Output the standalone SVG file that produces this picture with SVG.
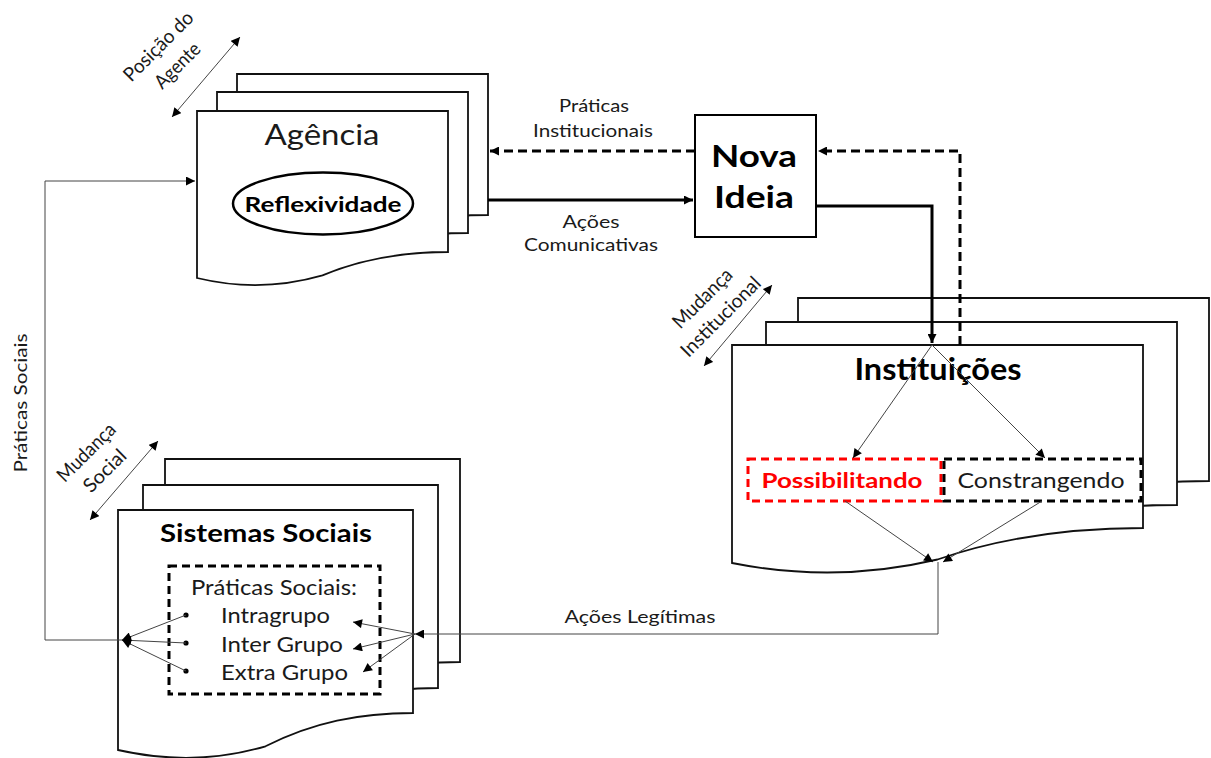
<svg xmlns="http://www.w3.org/2000/svg" width="1211" height="758" viewBox="0 0 1211 758">
<style>
.page{fill:#fff;stroke:#111;stroke-width:1.8}
.t{font-family:Lato,"Liberation Sans",sans-serif;fill:#1a1a1a}
.b{font-weight:bold;fill:#000}
.thick{fill:none;stroke:#000;stroke-width:3}
.dash{fill:none;stroke:#000;stroke-width:3;stroke-dasharray:9 5}
.thin{fill:none;stroke:#444;stroke-width:1}
.box{fill:#fff;stroke-width:3;stroke-dasharray:8 5}
</style>
<defs>
<marker id="ah" viewBox="0 0 10 10" refX="10" refY="5" markerWidth="10" markerHeight="9" orient="auto-start-reverse" markerUnits="userSpaceOnUse"><path d="M0,0 L10,5 L0,10 z" fill="#000"/></marker>
<path id="docA" d="M0,0 H251 V141 C205.8,141 165.7,147.5 125.5,164.4 C80.3,177.4 37.7,176.1 0,167 Z"/>
<path id="docI" d="M0,0 H411 V183 C337,183 271.3,191.75 205.5,214.5 C131.5,232 61.7,230.25 0,218 Z"/>
<path id="docS" d="M0,0 H295 V203 C241.9,203 194.7,212.25 147.5,236.3 C94.4,252 44.25,250 0,240 Z"/>
</defs>

<g id="agencia">
<use href="#docA" class="page" x="237" y="74"/>
<use href="#docA" class="page" x="217" y="92"/>
<use href="#docA" class="page" x="197" y="111"/>
<text class="t" x="322" y="145" font-size="28" text-anchor="middle" textLength="115" lengthAdjust="spacingAndGlyphs">Agência</text>
<ellipse cx="323" cy="203.5" rx="90" ry="31" fill="#fff" stroke="#000" stroke-width="2.5"/>
<text class="t b" x="323" y="212" font-size="21" text-anchor="middle" textLength="157" lengthAdjust="spacingAndGlyphs">Reflexividade</text>
</g>

<g id="nova-ideia">
<rect x="695" y="115" width="121" height="122" fill="#fff" stroke="#000" stroke-width="2"/>
<text class="t b" x="754" y="167" font-size="31" text-anchor="middle" textLength="86" lengthAdjust="spacingAndGlyphs">Nova</text>
<text class="t b" x="754" y="208" font-size="31" text-anchor="middle" textLength="80" lengthAdjust="spacingAndGlyphs">Ideia</text>
</g>

<g id="instituicoes">
<use href="#docI" class="page" x="798" y="298"/>
<use href="#docI" class="page" x="766" y="322"/>
<use href="#docI" class="page" x="732" y="345"/>
<text class="t b" x="938" y="380" font-size="30" text-anchor="middle" textLength="167" lengthAdjust="spacingAndGlyphs">Instituições</text>
</g>

<g id="possibilitando">
<rect class="box" x="748" y="459" width="193" height="42" stroke="#f00"/>
<text class="t b" x="842" y="488" font-size="21" text-anchor="middle" style="fill:#f00" textLength="161" lengthAdjust="spacingAndGlyphs">Possibilitando</text>
</g>

<g id="constrangendo">
<rect class="box" x="944" y="459" width="197" height="42" stroke="#000"/>
<text class="t" x="1041" y="488" font-size="22" text-anchor="middle" textLength="167" lengthAdjust="spacingAndGlyphs">Constrangendo</text>
</g>

<g id="sistemas-sociais">
<use href="#docS" class="page" x="165" y="459"/>
<use href="#docS" class="page" x="143" y="485"/>
<use href="#docS" class="page" x="118" y="510"/>
<text class="t b" x="266" y="542" font-size="24" text-anchor="middle" textLength="212" lengthAdjust="spacingAndGlyphs">Sistemas Sociais</text>
</g>

<g id="praticas-sociais-box">
<rect class="box" x="169" y="566" width="211" height="128" stroke="#000"/>
<text class="t" x="274" y="595" font-size="21" text-anchor="middle" textLength="166" lengthAdjust="spacingAndGlyphs">Práticas Sociais:</text>
<circle cx="186" cy="615" r="2.6" fill="#000"/>
<circle cx="186" cy="643" r="2.6" fill="#000"/>
<circle cx="186" cy="671" r="2.6" fill="#000"/>
<text class="t" x="221" y="623" font-size="21" textLength="109" lengthAdjust="spacingAndGlyphs">Intragrupo</text>
<text class="t" x="221" y="652" font-size="21" textLength="122" lengthAdjust="spacingAndGlyphs">Inter Grupo</text>
<text class="t" x="221" y="680" font-size="21" textLength="127" lengthAdjust="spacingAndGlyphs">Extra Grupo</text>
</g>

<g id="connectors">
<path class="dash" d="M695,151 H490" marker-end="url(#ah)"/>
<path class="thick" d="M488,200 H693" marker-end="url(#ah)"/>
<path class="thick" d="M816,206 H932 V343" marker-end="url(#ah)"/>
<path class="dash" d="M960,345 V151 H818" marker-end="url(#ah)"/>
<path class="thin" d="M932,345 L853,458" marker-end="url(#ah)"/>
<path class="thin" d="M932,345 L1045,458" marker-end="url(#ah)"/>
<path class="thin" d="M845,501 L933,562" marker-end="url(#ah)"/>
<path class="thin" d="M1042,501 L943,562" marker-end="url(#ah)"/>
<path class="thin" d="M938,562 V634 H415" marker-end="url(#ah)"/>
<path class="thin" d="M415,634 L353,622" marker-end="url(#ah)"/>
<path class="thin" d="M415,634 L353,649" marker-end="url(#ah)"/>
<path class="thin" d="M415,634 L363,672" marker-end="url(#ah)"/>
<path class="thin" d="M186,615 L122,640" marker-end="url(#ah)"/>
<path class="thin" d="M186,643 L122,640" marker-end="url(#ah)"/>
<path class="thin" d="M186,671 L122,640" marker-end="url(#ah)"/>
<path class="thin" d="M122,640 H45 V181 H195" marker-end="url(#ah)"/>
<path class="thin" d="M172,117 L240,37" marker-start="url(#ah)" marker-end="url(#ah)"/>
<path class="thin" d="M90,520 L158,441" marker-start="url(#ah)" marker-end="url(#ah)"/>
<path class="thin" d="M704,366 L772,285" marker-start="url(#ah)" marker-end="url(#ah)"/>
</g>

<g id="labels">
<text class="t" x="594" y="112" font-size="18" text-anchor="middle" textLength="70" lengthAdjust="spacingAndGlyphs">Práticas</text>
<text class="t" x="593" y="137" font-size="18" text-anchor="middle" textLength="120" lengthAdjust="spacingAndGlyphs">Institucionais</text>
<text class="t" x="591" y="228" font-size="18" text-anchor="middle" textLength="57" lengthAdjust="spacingAndGlyphs">Ações</text>
<text class="t" x="591" y="251" font-size="18" text-anchor="middle" textLength="134" lengthAdjust="spacingAndGlyphs">Comunicativas</text>
<text class="t" x="640" y="623" font-size="18" text-anchor="middle" textLength="151" lengthAdjust="spacingAndGlyphs">Ações Legítimas</text>
<text class="t" transform="translate(27,403) rotate(-90)" font-size="18" text-anchor="middle" textLength="139" lengthAdjust="spacingAndGlyphs">Práticas Sociais</text>
<g transform="translate(163,51) rotate(-45)">
<text class="t" x="0" y="0" font-size="19.5" text-anchor="middle" textLength="90" lengthAdjust="spacingAndGlyphs">Posição do</text>
<text class="t" x="0" y="27" font-size="19.5" text-anchor="middle" textLength="56" lengthAdjust="spacingAndGlyphs">Agente</text>
</g>
<g transform="translate(91,457) rotate(-45)">
<text class="t" x="0" y="0" font-size="19.5" text-anchor="middle" textLength="74" lengthAdjust="spacingAndGlyphs">Mudança</text>
<text class="t" x="0" y="26" font-size="19.5" text-anchor="middle" textLength="52" lengthAdjust="spacingAndGlyphs">Social</text>
</g>
<g transform="translate(707,303) rotate(-45)">
<text class="t" x="0" y="0" font-size="19.5" text-anchor="middle" textLength="76" lengthAdjust="spacingAndGlyphs">Mudança</text>
<text class="t" x="0" y="26" font-size="19.5" text-anchor="middle" textLength="104" lengthAdjust="spacingAndGlyphs">Institucional</text>
</g>
</g>
</svg>
